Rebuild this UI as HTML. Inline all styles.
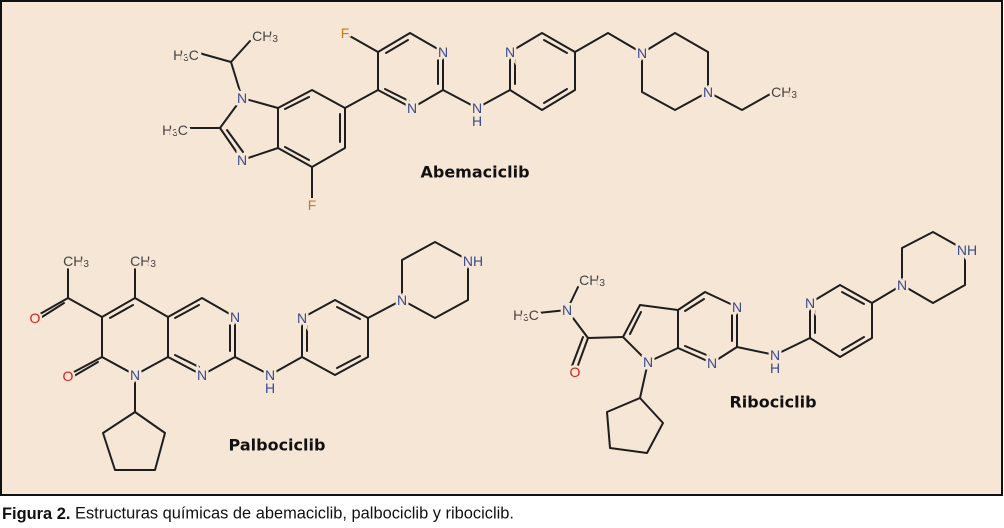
<!DOCTYPE html>
<html><head><meta charset="utf-8"><style>
html,body{margin:0;padding:0;background:#fff;width:1004px;height:528px;overflow:hidden}
svg{display:block}
.b{stroke:#1e1e1e;stroke-width:2;fill:none;stroke-linecap:round;stroke-linejoin:round}
text{font-family:"Liberation Sans",sans-serif;font-size:14px;text-anchor:middle;dominant-baseline:central;paint-order:stroke;stroke:#f5e6d5;stroke-width:5px}
.N{fill:#3a4a8f}.O{fill:#d42020}.F{fill:#c97a20}.C{fill:#444}
.t{font-weight:bold;font-size:16px;fill:#111;stroke:none;font-family:"DejaVu Sans","Liberation Sans",sans-serif}
</style></head><body>
<svg width="1004" height="528" viewBox="0 0 1004 528" xmlns="http://www.w3.org/2000/svg">
<rect x="1" y="1" width="1001" height="494" fill="#f5e6d5" stroke="#111" stroke-width="2"/>
<!-- Abemaciclib -->
<g class="b">
<path d="M199,53 L231,62 L250,41 M231,62 L242,98"/>
<path d="M242,98 L278,108 L278,148 L242,160 L220,128 L242,98 M220,128 L188,128"/>
<path d="M278,108 L312,90 L345,108 L345,148 L312,167 L278,148"/>
<path d="M285,109 L309,97 M340,114 L340,142 M309,160 L285,147 M227,130 L243,152"/>
<path d="M312,167 L312,198"/>
<path d="M345,108 L378,90 L378,52 L410,33 L443,52 L443,90 L412,108 L378,90 M378,52 L348,35"/>
<path d="M385,89 L409,101 M386,53 L408,40 M438,58 L438,84"/>
<path d="M443,90 L477,108 L510,90 L510,52 L542,33 L575,52 L575,90 L542,110 L510,90"/>
<path d="M515,58 L515,84 M544,40 L567,53 M567,89 L544,103"/>
<path d="M575,52 L608,33 L642,53 L675,33 L708,52 L708,92 L675,110 L642,92 L642,53 M708,92 L742,110 L772,93"/>
</g>
<text x="242" y="98" class="N">N</text><text x="242" y="160" class="N">N</text>
<text x="412" y="108" class="N">N</text><text x="443" y="52" class="N">N</text>
<text x="477" y="108" class="N">N</text><text x="477" y="121" class="N">H</text>
<text x="510" y="52" class="N">N</text><text x="642" y="53" class="N">N</text><text x="708" y="92" class="N">N</text>
<text x="345" y="33" class="F">F</text><text x="312" y="205" class="F">F</text>
<text x="186" y="55" class="C">H<tspan font-size="10" dy="3">3</tspan><tspan dy="-3">C</tspan></text>
<text x="265" y="36" class="C">CH<tspan font-size="10" dy="3">3</tspan></text>
<text x="175" y="130" class="C">H<tspan font-size="10" dy="3">3</tspan><tspan dy="-3">C</tspan></text>
<text x="784" y="92" class="C">CH<tspan font-size="10" dy="3">3</tspan></text>
<text x="475" y="172" class="t">Abemaciclib</text>
<!-- Palbociclib -->
<g class="b">
<path d="M135,268 L135,298 M68,298 L68,268 M68,298 L102,317"/>
<path d="M68,298 L40,314 M64,303 L42,317 M102,357 L72,373 M98,362 L74,376"/>
<path d="M102,317 L135,298 L168,317 L168,357 L135,375 L102,357 L102,317"/>
<path d="M110,318 L133,305"/>
<path d="M168,317 L202,298 L235,317 L235,357 L202,375 L168,357"/>
<path d="M175,318 L199,305 M230,323 L230,351 M175,355 L199,367"/>
<path d="M235,357 L270,375 L302,357 L302,318 L335,300 L368,318 L368,357 L335,375 L302,357"/>
<path d="M307,323 L307,351 M337,307 L360,319 M360,356 L337,368"/>
<path d="M368,318 L402,300 L402,260 L435,242 L468,260 L468,300 L435,318 L402,300"/>
<path d="M135,375 L135,412 L165,433 L155,470 L115,470 L103,433 L135,412"/>
</g>
<text x="135" y="375" class="N">N</text><text x="235" y="317" class="N">N</text><text x="202" y="375" class="N">N</text>
<text x="270" y="375" class="N">N</text><text x="270" y="388" class="N">H</text>
<text x="302" y="318" class="N">N</text><text x="402" y="300" class="N">N</text><text x="473" y="261" class="N">NH</text>
<text x="35" y="318" class="O">O</text><text x="68" y="376" class="O">O</text>
<text x="76" y="261" class="C">CH<tspan font-size="10" dy="3">3</tspan></text>
<text x="143" y="261" class="C">CH<tspan font-size="10" dy="3">3</tspan></text>
<text x="277" y="445" class="t">Palbociclib</text>
<!-- Ribociclib -->
<g class="b">
<path d="M538,313 L567,310 L578,287 M567,310 L588,338 L623,337"/>
<path d="M588,338 L577,368 M583,337 L572,366"/>
<path d="M623,337 L640,305 L678,310 L678,348 L648,362 L623,337 M630,334 L641,312"/>
<path d="M678,310 L705,292 L737,307 L737,347 L712,363 L678,348"/>
<path d="M685,311 L704,299 M732,313 L732,341 M685,346 L709,356"/>
<path d="M737,347 L775,355 L810,338 L810,303 L840,285 L872,303 L872,338 L840,357 L810,338"/>
<path d="M815,309 L815,333 M842,292 L864,304 M864,337 L842,350"/>
<path d="M872,303 L902,285 L902,248 L933,232 L965,250 L965,285 L933,303 L902,285"/>
<path d="M648,362 L640,398 L663,423 L647,453 L610,448 L607,412 L640,398"/>
</g>
<text x="567" y="310" class="N">N</text><text x="648" y="362" class="N">N</text>
<text x="737" y="307" class="N">N</text><text x="712" y="363" class="N">N</text>
<text x="775" y="355" class="N">N</text><text x="775" y="368" class="N">H</text>
<text x="810" y="303" class="N">N</text><text x="902" y="285" class="N">N</text><text x="967" y="250" class="N">NH</text>
<text x="575" y="372" class="O">O</text>
<text x="592" y="280" class="C">CH<tspan font-size="10" dy="3">3</tspan></text>
<text x="526" y="315" class="C">H<tspan font-size="10" dy="3">3</tspan><tspan dy="-3">C</tspan></text>
<text x="773" y="402" class="t">Ribociclib</text>
<text x="2" y="513" style="text-anchor:start;stroke:none;fill:#111;font-family:'Liberation Sans Narrow','Liberation Sans',sans-serif;font-size:17px" textLength="512" lengthAdjust="spacingAndGlyphs"><tspan font-weight="bold">Figura 2.</tspan> Estructuras químicas de abemaciclib, palbociclib y ribociclib.</text>
</svg>
</body></html>
